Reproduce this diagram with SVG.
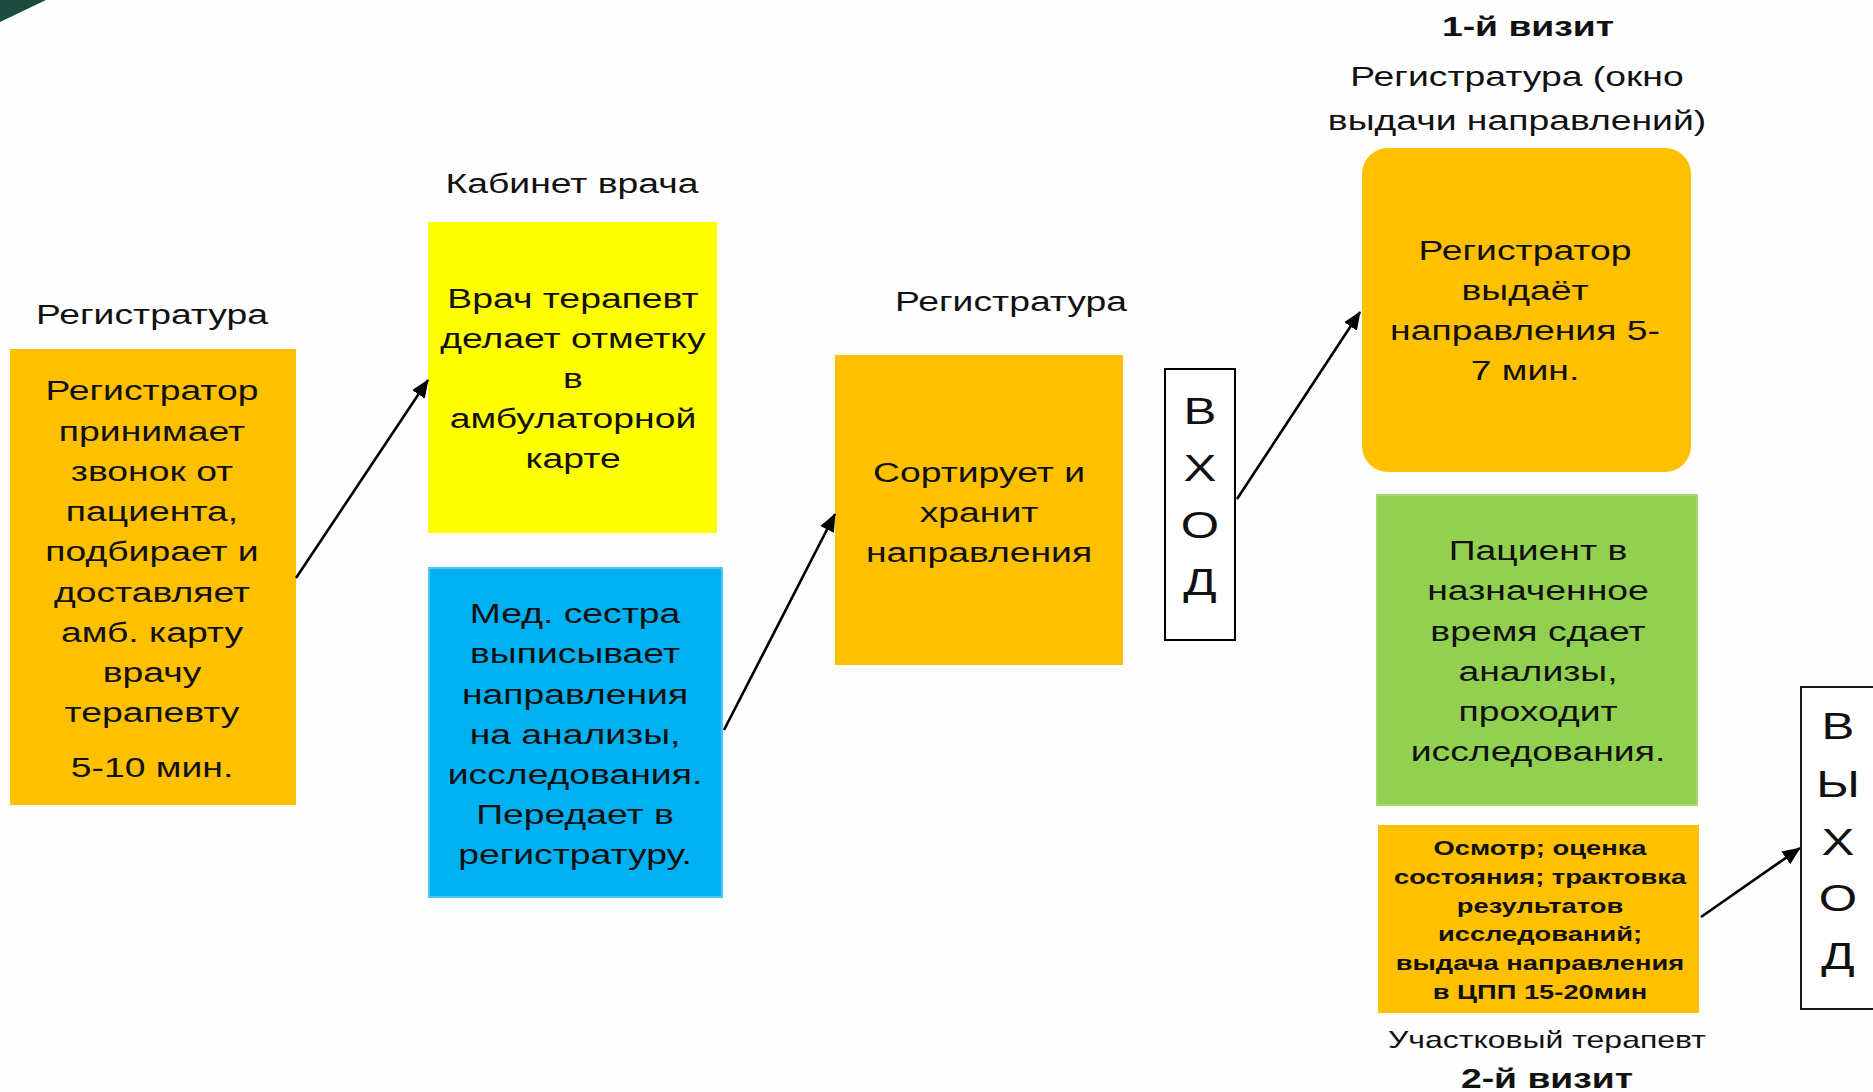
<svg xmlns="http://www.w3.org/2000/svg" width="1873" height="1092" viewBox="0 0 1873 1092">
<defs>
<style>
text{font-family:"Liberation Sans",Arial,sans-serif;fill:#111;text-anchor:middle}
.t{font-size:28px}
.b{font-size:28px;font-weight:bold}
.s{font-size:24px}
.sb{font-size:20.5px;font-weight:bold}
.big{font-size:37px}
.conn line{stroke:#000;stroke-width:2.6;marker-end:url(#ah)}
</style>
<marker id="ah" viewBox="0 0 10 10" refX="9.5" refY="5" markerWidth="7" markerHeight="7" orient="auto" markerUnits="strokeWidth">
<path d="M0,0.8 L10,5 L0,9.2 z" fill="#000"/>
</marker>
</defs>
<rect width="1873" height="1092" fill="#fefefe"/>
<polygon points="0,0 46,0 0,22" fill="#1b4d3e"/>

<g id="lbl-reg1" transform="translate(152 0) scale(1.333 1)"><text class="t" x="0" y="324">Регистратура</text></g>
<g id="n1">
<rect x="10" y="349" width="286" height="456" fill="#FFC000"/>
<g transform="translate(152 0) scale(1.333 1)">
<text class="t" x="0" y="400">Регистратор</text>
<text class="t" x="0" y="441">принимает</text>
<text class="t" x="0" y="481">звонок от</text>
<text class="t" x="0" y="521">пациента,</text>
<text class="t" x="0" y="561">подбирает и</text>
<text class="t" x="0" y="602">доставляет</text>
<text class="t" x="0" y="642">амб. карту</text>
<text class="t" x="0" y="682">врачу</text>
<text class="t" x="0" y="722">терапевту</text>
<text class="t" x="0" y="777">5-10 мин.</text>
</g>
</g>

<g id="lbl-kab" transform="translate(572 0) scale(1.333 1)"><text class="t" x="0" y="193">Кабинет врача</text></g>
<g id="n2">
<rect x="428" y="222" width="289" height="311" fill="#FFFF00"/>
<g transform="translate(573 0) scale(1.333 1)">
<text class="t" x="0" y="308">Врач терапевт</text>
<text class="t" x="0" y="348">делает отметку</text>
<text class="t" x="0" y="388">в</text>
<text class="t" x="0" y="428">амбулаторной</text>
<text class="t" x="0" y="468">карте</text>
</g>
</g>

<g id="n3">
<rect x="429" y="568" width="293" height="329" fill="#00B0F0" stroke="#4cc6f3" stroke-width="2"/>
<g transform="translate(575 0) scale(1.333 1)">
<text class="t" x="0" y="623">Мед. сестра</text>
<text class="t" x="0" y="663">выписывает</text>
<text class="t" x="0" y="704">направления</text>
<text class="t" x="0" y="744">на анализы,</text>
<text class="t" x="0" y="784">исследования.</text>
<text class="t" x="0" y="824">Передает в</text>
<text class="t" x="0" y="864">регистратуру.</text>
</g>
</g>

<g id="lbl-reg2" transform="translate(1011 0) scale(1.333 1)"><text class="t" x="0" y="311">Регистратура</text></g>
<g id="n4">
<rect x="835" y="355" width="288" height="310" fill="#FFC000"/>
<g transform="translate(979 0) scale(1.333 1)">
<text class="t" x="0" y="482">Сортирует и</text>
<text class="t" x="0" y="522">хранит</text>
<text class="t" x="0" y="562">направления</text>
</g>
</g>

<g id="vhod">
<rect x="1165" y="369" width="70" height="271" fill="#fff" stroke="#000" stroke-width="2"/>
<g transform="translate(1200 0) scale(1.333 1)">
<text class="big" x="0" y="424">В</text>
<text class="big" x="0" y="481">Х</text>
<text class="big" x="0" y="538">О</text>
<text class="big" x="0" y="595">Д</text>
</g>
</g>

<g id="lbl-visit1">
<g transform="translate(1528 0) scale(1.333 1)"><text class="b" x="0" y="36">1-й визит</text></g>
<g transform="translate(1517 0) scale(1.333 1)">
<text class="t" x="0" y="86">Регистратура (окно</text>
<text class="t" x="0" y="130">выдачи направлений)</text>
</g>
</g>

<g id="n5">
<rect x="1362" y="148" width="329" height="324" rx="26" fill="#FFC000"/>
<g transform="translate(1525 0) scale(1.333 1)">
<text class="t" x="0" y="260">Регистратор</text>
<text class="t" x="0" y="300">выдаёт</text>
<text class="t" x="0" y="340">направления 5-</text>
<text class="t" x="0" y="380">7 мин.</text>
</g>
</g>

<g id="n6">
<rect x="1377" y="495" width="320" height="310" fill="#92D050" stroke="#a4d86a" stroke-width="2"/>
<g transform="translate(1538 0) scale(1.333 1)">
<text class="t" x="0" y="560">Пациент в</text>
<text class="t" x="0" y="600">назначенное</text>
<text class="t" x="0" y="641">время сдает</text>
<text class="t" x="0" y="681">анализы,</text>
<text class="t" x="0" y="721">проходит</text>
<text class="t" x="0" y="761">исследования.</text>
</g>
</g>

<g id="n7">
<rect x="1378" y="825" width="321" height="188" fill="#FFC000"/>
<g transform="translate(1540 0) scale(1.333 1)">
<text class="sb" x="0" y="855">Осмотр; оценка</text>
<text class="sb" x="0" y="884">состояния; трактовка</text>
<text class="sb" x="0" y="913">результатов</text>
<text class="sb" x="0" y="941">исследований;</text>
<text class="sb" x="0" y="970">выдача направления</text>
<text class="sb" x="0" y="999">в ЦПП 15-20мин</text>
</g>
</g>

<g id="lbl-visit2">
<g transform="translate(1547 0) scale(1.333 1)"><text class="s" x="0" y="1048">Участковый терапевт</text></g>
<g transform="translate(1547 0) scale(1.333 1)"><text class="b" x="0" y="1088">2-й визит</text></g>
</g>

<g id="vyhod">
<rect x="1801" y="687" width="74" height="322" fill="#fff" stroke="#000" stroke-width="1.8"/>
<g transform="translate(1838 0) scale(1.333 1)">
<text class="big" x="0" y="739">В</text>
<text class="big" x="0" y="797">Ы</text>
<text class="big" x="0" y="855">Х</text>
<text class="big" x="0" y="911">О</text>
<text class="big" x="0" y="969">Д</text>
</g>
</g>

<g id="connectors" class="conn">
<line x1="296" y1="578" x2="428" y2="380"/>
<line x1="724" y1="730" x2="835" y2="514"/>
<line x1="1237" y1="499" x2="1360" y2="312"/>
<line x1="1701" y1="917" x2="1800" y2="848"/>
</g>
</svg>
